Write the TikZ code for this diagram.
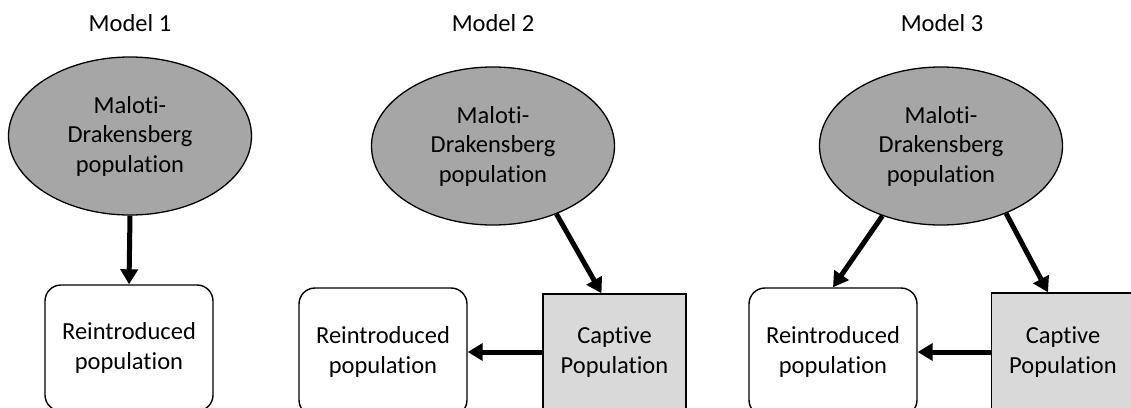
\documentclass[tikz,border=0pt]{standalone}
\usepackage{fontspec}
\setmainfont{Carlito}[Ligatures={NoCommon,NoContextual,NoRequired}]
\usetikzlibrary{arrows.meta,shapes.geometric}
\definecolor{popgray}{HTML}{A6A6A6}
\definecolor{capgray}{HTML}{D9D9D9}
\newcommand{\diagfont}{\fontsize{24.5}{29.5}\selectfont}
\newcommand{\tisep}{t\kern0pt i}
\begin{document}
\begin{tikzpicture}[x=1pt,y=-1pt,
  every node/.style={font=\diagfont, text=black},
  pop/.style={ellipse, draw=black, line width=1.3pt, fill=popgray,
    minimum width=243pt, minimum height=158pt, inner sep=0pt, align=center},
  reintro/.style={rectangle, draw=black, line width=1.4pt, fill=white,
    rounded corners=16pt, minimum width=168pt, inner sep=0pt, align=center},
  captive/.style={rectangle, draw=black, line width=1.4pt, fill=capgray,
    minimum width=143pt, minimum height=116pt, inner sep=0pt, align=center},
  flow/.style={line width=5pt, -{Triangle[width=17pt,length=15pt]}}]
\useasboundingbox (0,0) rectangle (1131,407);
\clip (0,0) rectangle (1131,407);
\fill[white] (0,0) rectangle (1131,407);

% Model 1
\node (m1) at (130,23) {Model 1};
\node[pop] (e1) at (130,136) {Malo\tisep-\\Drakensberg\\popula\tisep on};
\node[reintro, minimum height=126pt] (r1) at (129,348) {Reintroduced\\popula\tisep on};
\draw[flow] (e1.south) -- (r1.north);

% Model 2
\node (m2) at (493,23) {Model 2};
\node[pop] (e2) at (493,146) {Malo\tisep-\\Drakensberg\\popula\tisep on};
\node[reintro, minimum height=128pt] (r2) at (383,352) {Reintroduced\\popula\tisep on};
\node[captive] (c2) at (614.5,352) {Cap\tisep ve\\Popula\tisep on};
\draw[flow] (e2.-47) -- ([xshift=-13pt]c2.north);
\draw[flow] (c2.west) -- (r2.east);

% Model 3
\node (m3) at (942,23) {Model 3};
\node[pop] (e3) at (941,146) {Malo\tisep-\\Drakensberg\\popula\tisep on};
\node[reintro, minimum height=128pt] (r3) at (833,352) {Reintroduced\\popula\tisep on};
\node[captive, minimum height=118pt] (c3) at (1063,352) {Cap\tisep ve\\Popula\tisep on};
\draw[flow] (e3.-130) -- (r3.north);
\draw[flow] (e3.-46) -- ([xshift=-15pt]c3.north);
\draw[flow] (c3.west) -- (r3.east);
\end{tikzpicture}
\end{document}
